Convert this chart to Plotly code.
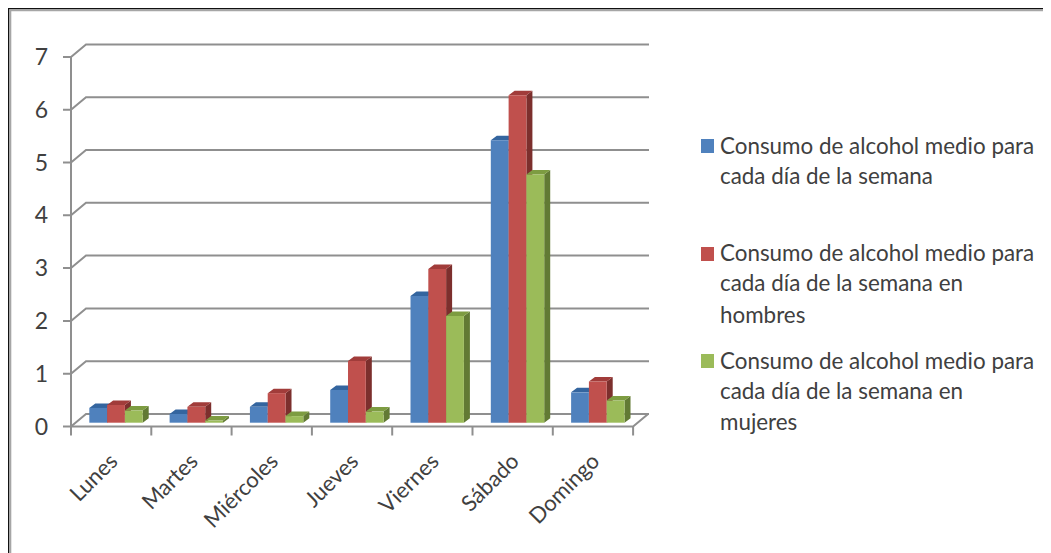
import numpy as np
import plotly.graph_objects as go

categories = ["Lunes", "Martes", "Miércoles", "Jueves", "Viernes", "Sábado", "Domingo"]
medio = [0.28, 0.165, 0.30, 0.62, 2.40, 5.35, 0.575]
hombres = [0.335, 0.30, 0.56, 1.17, 2.91, 6.20, 0.78]
mujeres = [0.23, 0.04, 0.125, 0.21, 2.02, 4.70, 0.42]
y_ticks = [0, 1, 2, 3, 4, 5, 6, 7]

legend_lines = [
    ["Consumo de alcohol medio para", "cada día de la semana"],
    ["Consumo de alcohol medio para", "cada día de la semana en", "hombres"],
    ["Consumo de alcohol medio para", "cada día de la semana en", "mujeres"],
]
front = ["#4F81BD", "#C0504D", "#9BBB59"]
side = ["#2F5686", "#7C2F2D", "#627A34"]
top = ["#34659F", "#A13C3A", "#7D9C41"]

# The page body has an 8 px margin, so the figure starts at (8, 8) in the window.
OFF = 8
W, H = 1051 - OFF, 553 - OFF
PX_X = 80.3
PX_Y = 52.8
# plot box in figure pixels, slightly larger than the drawn frame so nothing is clipped
L, R, T, B = 63 - OFF, 655 - OFF, 40 - OFF, 436 - OFF
AX_X, AX_Y = 71 - OFF, 426.5 - OFF
x_range = [-0.5 - (AX_X - L) / PX_X, -0.5 + (R - AX_X) / PX_X]
y_range = [-(B - AX_Y) / PX_Y, (AX_Y - T) / PX_Y]
wall_dx, wall_dy = 15 / PX_X, 12.5 / PX_Y
wall_end = -0.5 + 578 / PX_X
bar_w = 17.8 / PX_X
bar_off = -0.272
bar_base = 3.8 / PX_Y
dep_x, dep_y = 6 / PX_X, 4.5 / PX_Y
ytick_len = 8 / PX_X
xtick_len = 9 / PX_Y
GRID = "#8F8F8F"
TEXT = "#404040"
FONT = "Lato"


def px(x):
    return (x - OFF - L) / (R - L)


def py(y):
    return (B - (y - OFF)) / (B - T)


fig = go.Figure()

# back wall, floor, axis lines and tick marks
gx, gy = [], []
for v in y_ticks:
    gx += [-0.5 - ytick_len, -0.5, -0.5 + wall_dx, wall_end, None]
    gy += [v, v, v + wall_dy, v + wall_dy, None]
gx += [-0.5, 6.5, 6.5 + wall_dx, None, -0.5, -0.5, None]
gy += [0, 0, wall_dy, None, -xtick_len, 7, None]
for i in range(1, 8):
    gx += [i - 0.5, i - 0.5, None]
    gy += [0, -xtick_len, None]
fig.add_trace(go.Scatter(x=gx, y=gy, mode="lines", line=dict(color=GRID, width=2),
                         hoverinfo="skip", showlegend=False, zorder=0))

series = [medio, hombres, mujeres]
names = ["medio", "hombres", "mujeres"]
xs = np.arange(len(categories))
for k, vals in enumerate(series):
    sx, sy, tx, ty = [], [], [], []
    for i, v in zip(xs, vals):
        x0 = i + bar_off + k * bar_w
        x1 = x0 + bar_w
        y1 = bar_base + v
        sx += [x1, x1 + dep_x, x1 + dep_x, x1, x1, None]
        sy += [bar_base, bar_base + dep_y, y1 + dep_y, y1, bar_base, None]
        tx += [x0, x0 + dep_x, x1 + dep_x, x1, x0, None]
        ty += [y1, y1 + dep_y, y1 + dep_y, y1, y1, None]
    fig.add_trace(go.Scatter(x=sx, y=sy, fill="toself", fillcolor=side[k], mode="lines",
                             line=dict(width=0, color=side[k]), hoverinfo="skip",
                             showlegend=False, zorder=2 * k + 1))
    fig.add_trace(go.Scatter(x=tx, y=ty, fill="toself", fillcolor=top[k], mode="lines",
                             line=dict(width=0, color=top[k]), hoverinfo="skip",
                             showlegend=False, zorder=2 * k + 1))
    fig.add_trace(go.Bar(x=xs, y=vals, base=bar_base, width=bar_w,
                         offset=bar_off + k * bar_w, marker=dict(color=front[k], line=dict(width=0)),
                         name=names[k], showlegend=False, zorder=2 * k + 2))

annotations = []
shapes = []
line_ys = [[145.5, 175.5], [252.5, 282.5, 314.5], [360, 390.5, 421.5]]
swatch_ys = [139, 247, 354]
for k, lines in enumerate(legend_lines):
    shapes.append(dict(type="rect", xref="paper", yref="paper", x0=px(701), x1=px(714),
                       y0=py(swatch_ys[k]), y1=py(swatch_ys[k] + 14),
                       fillcolor=front[k], line=dict(width=0)))
    for text, yc in zip(lines, line_ys[k]):
        annotations.append(dict(text=text, xref="paper", yref="paper", x=px(717.5), y=py(yc),
                                xanchor="left", yanchor="middle", showarrow=False,
                                font=dict(family=FONT, size=22.4, color=TEXT)))

# picture frame: top and left edges only
far_x, far_y = 1051, 553
shapes += [
    dict(type="line", xref="paper", yref="paper", x0=px(OFF), x1=px(far_x), y0=py(OFF + 0.5), y1=py(OFF + 0.5),
         line=dict(color="#111111", width=1.5)),
    dict(type="line", xref="paper", yref="paper", x0=px(OFF + 0.5), x1=px(OFF + 0.5), y0=py(OFF), y1=py(far_y),
         line=dict(color="#111111", width=1.5)),
    dict(type="line", xref="paper", yref="paper", x0=px(OFF + 2), x1=px(far_x), y0=py(OFF + 2.2), y1=py(OFF + 2.2),
         line=dict(color="#A6A6A6", width=2.2)),
    dict(type="line", xref="paper", yref="paper", x0=px(OFF + 2.2), x1=px(OFF + 2.2), y0=py(OFF + 2), y1=py(far_y),
         line=dict(color="#A6A6A6", width=2.2)),
]

fig.update_layout(
    width=W, height=H,
    margin=dict(l=L, r=W - R, t=T, b=H - B, autoexpand=False),
    paper_bgcolor="white", plot_bgcolor="rgba(0,0,0,0)",
    barmode="overlay", showlegend=False,
    annotations=annotations, shapes=shapes,
    font=dict(family=FONT, color=TEXT),
    xaxis=dict(range=x_range, tickmode="array", tickvals=list(xs), ticktext=categories,
               tickangle=-45, ticks="", showgrid=False, showline=False, zeroline=False,
               tickfont=dict(family=FONT, size=22, color=TEXT), ticklabelstandoff=7),
    yaxis=dict(range=y_range, tickmode="array", tickvals=y_ticks, ticks="", showgrid=False,
               showline=False, zeroline=False,
               tickfont=dict(family=FONT, size=23, color=TEXT), ticklabelstandoff=14),
)

fig.write_html("out.html")
